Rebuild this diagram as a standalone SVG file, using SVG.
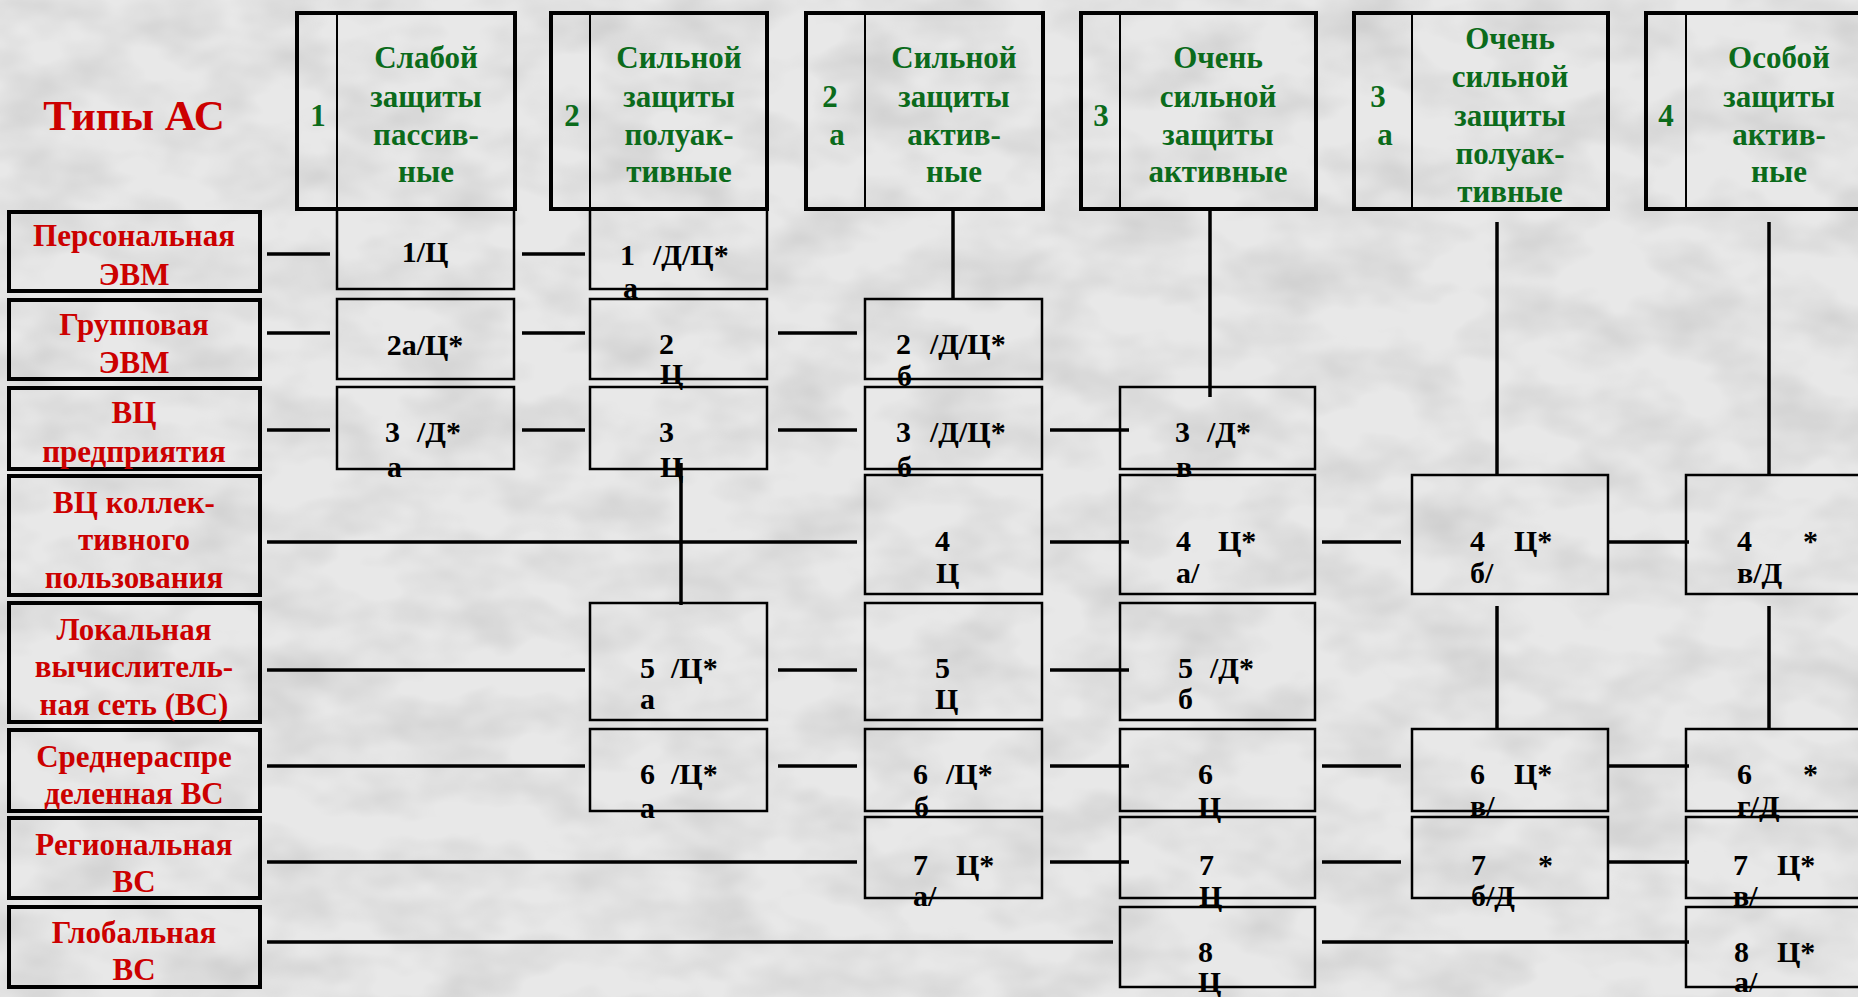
<svg xmlns="http://www.w3.org/2000/svg" width="1858" height="997" viewBox="0 0 1858 997">
<style>
.hdr{fill:none;stroke:#000;stroke-width:4}
.dv{stroke:#000;stroke-width:2}
.lbl{fill:none;stroke:#000;stroke-width:4}
.cell{fill:none;stroke:#000;stroke-width:2.5}
#connectors line{stroke:#000;stroke-width:3.5}
text{font-family:"Liberation Serif","Times New Roman",serif;font-weight:bold}
.g{fill:#0b6b1b;font-size:31px;text-anchor:middle}
.r{fill:#cc0000;font-size:31px;text-anchor:middle}
.t{fill:#000;font-size:30px}
.tm{fill:#000;font-size:30px;text-anchor:middle}
</style>
<defs>
<filter id="tex" x="0" y="0" width="1858" height="997" filterUnits="userSpaceOnUse">
<feTurbulence type="fractalNoise" baseFrequency="0.012 0.02" numOctaves="3" seed="7"/>
<feColorMatrix type="matrix" values="0 0 0 0 0.6  0 0 0 0 0.6  0 0 0 0 0.6  1.6 0 0 0 -0.6"/>
</filter>
</defs>
<rect x="0" y="0" width="1858" height="997" fill="#e8e8e8"/>
<rect x="0" y="0" width="1858" height="997" filter="url(#tex)"/>

<text class="r" x="134" y="130" style="font-size:43px">Типы АС</text>

<!-- header nodes -->
<g id="h1">
<rect class="hdr" x="297" y="13" width="218" height="196"/>
<line class="dv" x1="337" y1="13" x2="337" y2="209"/>
<text class="g" x="318" y="126">1</text>
<text class="g" x="426" y="68">Слабой</text>
<text class="g" x="426" y="107">защиты</text>
<text class="g" x="426" y="145">пассив-</text>
<text class="g" x="426" y="182">ные</text>
</g>
<g id="h2">
<rect class="hdr" x="551" y="13" width="216" height="196"/>
<line class="dv" x1="590" y1="13" x2="590" y2="209"/>
<text class="g" x="572" y="126">2</text>
<text class="g" x="679" y="68">Сильной</text>
<text class="g" x="679" y="107">защиты</text>
<text class="g" x="679" y="145">полуак-</text>
<text class="g" x="679" y="182">тивные</text>
</g>
<g id="h2a">
<rect class="hdr" x="806" y="13" width="237" height="196"/>
<line class="dv" x1="865" y1="13" x2="865" y2="209"/>
<text class="g" x="830" y="107">2</text>
<text class="g" x="837" y="145">а</text>
<text class="g" x="954" y="68">Сильной</text>
<text class="g" x="954" y="107">защиты</text>
<text class="g" x="954" y="145">актив-</text>
<text class="g" x="954" y="182">ные</text>
</g>
<g id="h3">
<rect class="hdr" x="1081" y="13" width="235" height="196"/>
<line class="dv" x1="1120" y1="13" x2="1120" y2="209"/>
<text class="g" x="1101" y="126">3</text>
<text class="g" x="1218" y="68">Очень</text>
<text class="g" x="1218" y="107">сильной</text>
<text class="g" x="1218" y="145">защиты</text>
<text class="g" x="1218" y="182">активные</text>
</g>
<g id="h3a">
<rect class="hdr" x="1354" y="13" width="254" height="196"/>
<line class="dv" x1="1412" y1="13" x2="1412" y2="209"/>
<text class="g" x="1378" y="107">3</text>
<text class="g" x="1385" y="145">а</text>
<text class="g" x="1510" y="49">Очень</text>
<text class="g" x="1510" y="87">сильной</text>
<text class="g" x="1510" y="126">защиты</text>
<text class="g" x="1510" y="164">полуак-</text>
<text class="g" x="1510" y="202">тивные</text>
</g>
<g id="h4">
<rect class="hdr" x="1646" y="13" width="240" height="196"/>
<line class="dv" x1="1686" y1="13" x2="1686" y2="209"/>
<text class="g" x="1666" y="126">4</text>
<text class="g" x="1779" y="68">Особой</text>
<text class="g" x="1779" y="107">защиты</text>
<text class="g" x="1779" y="145">актив-</text>
<text class="g" x="1779" y="182">ные</text>
</g>

<!-- row label nodes -->
<g id="r1"><rect class="lbl" x="9" y="212" width="251" height="79"/>
<text class="r" x="134" y="246">Персональная</text><text class="r" x="134" y="285">ЭВМ</text></g>
<g id="r2"><rect class="lbl" x="9" y="300" width="251" height="79"/>
<text class="r" x="134" y="335">Групповая</text><text class="r" x="134" y="373">ЭВМ</text></g>
<g id="r3"><rect class="lbl" x="9" y="388" width="251" height="81"/>
<text class="r" x="134" y="423">ВЦ</text><text class="r" x="134" y="462">предприятия</text></g>
<g id="r4"><rect class="lbl" x="9" y="476" width="251" height="119"/>
<text class="r" x="134" y="513">ВЦ коллек-</text><text class="r" x="134" y="550">тивного</text><text class="r" x="134" y="588">пользования</text></g>
<g id="r5"><rect class="lbl" x="9" y="603" width="251" height="119"/>
<text class="r" x="134" y="640">Локальная</text><text class="r" x="134" y="677">вычислитель-</text><text class="r" x="134" y="715">ная сеть (ВС)</text></g>
<g id="r6"><rect class="lbl" x="9" y="730" width="251" height="81"/>
<text class="r" x="134" y="767">Среднераспре</text><text class="r" x="134" y="804">деленная ВС</text></g>
<g id="r7"><rect class="lbl" x="9" y="818" width="251" height="80"/>
<text class="r" x="134" y="855">Региональная</text><text class="r" x="134" y="892">ВС</text></g>
<g id="r8"><rect class="lbl" x="9" y="907" width="251" height="80"/>
<text class="r" x="134" y="943">Глобальная</text><text class="r" x="134" y="980">ВС</text></g>

<!-- connectors -->
<g id="connectors">
<line x1="267" y1="254" x2="330" y2="254"/><line x1="522" y1="254" x2="585" y2="254"/>
<line x1="267" y1="333" x2="330" y2="333"/><line x1="522" y1="333" x2="585" y2="333"/><line x1="778" y1="333" x2="857" y2="333"/>
<line x1="267" y1="430" x2="330" y2="430"/><line x1="522" y1="430" x2="585" y2="430"/><line x1="778" y1="430" x2="857" y2="430"/><line x1="1050" y1="430" x2="1129" y2="430"/>
<line x1="267" y1="542" x2="857" y2="542"/><line x1="1050" y1="542" x2="1129" y2="542"/><line x1="1322" y1="542" x2="1401" y2="542"/><line x1="1609" y1="542" x2="1689" y2="542"/>
<line x1="267" y1="670" x2="585" y2="670"/><line x1="778" y1="670" x2="857" y2="670"/><line x1="1050" y1="670" x2="1129" y2="670"/>
<line x1="267" y1="766" x2="585" y2="766"/><line x1="778" y1="766" x2="857" y2="766"/><line x1="1050" y1="766" x2="1129" y2="766"/><line x1="1322" y1="766" x2="1401" y2="766"/><line x1="1609" y1="766" x2="1689" y2="766"/>
<line x1="267" y1="862" x2="857" y2="862"/><line x1="1050" y1="862" x2="1129" y2="862"/><line x1="1322" y1="862" x2="1401" y2="862"/><line x1="1609" y1="862" x2="1689" y2="862"/>
<line x1="267" y1="942" x2="1113" y2="942"/><line x1="1322" y1="942" x2="1689" y2="942"/>
<line x1="953" y1="209" x2="953" y2="299"/>
<line x1="1210" y1="209" x2="1210" y2="397"/>
<line x1="1497" y1="222" x2="1497" y2="475"/><line x1="1497" y1="606" x2="1497" y2="730"/>
<line x1="1769" y1="222" x2="1769" y2="475"/><line x1="1769" y1="606" x2="1769" y2="730"/>
<line x1="681" y1="463" x2="681" y2="605"/>
</g>

<!-- cell nodes -->
<g id="c1-1"><rect class="cell" x="337" y="209" width="177" height="80"/><text class="tm" x="425" y="262">1/Ц</text></g>
<g id="c1-2"><rect class="cell" x="590" y="209" width="177" height="80"/><text class="t" x="620" y="265">1<tspan x="653">/Д/Ц*</tspan></text><text class="t" x="623" y="298">а</text></g>

<g id="c2-1"><rect class="cell" x="337" y="299" width="177" height="80"/><text class="tm" x="425" y="355">2а/Ц*</text></g>
<g id="c2-2"><rect class="cell" x="590" y="299" width="177" height="80"/><text class="t" x="659" y="354">2</text><text class="t" x="660" y="384">Ц</text></g>
<g id="c2-2a"><rect class="cell" x="865" y="299" width="177" height="80"/><text class="t" x="896" y="354">2<tspan x="930">/Д/Ц*</tspan></text><text class="t" x="897" y="386">б</text></g>

<g id="c3-1"><rect class="cell" x="337" y="387" width="177" height="82"/><text class="t" x="385" y="442">3<tspan x="417">/Д*</tspan></text><text class="t" x="387" y="477">а</text></g>
<g id="c3-2"><rect class="cell" x="590" y="387" width="177" height="82"/><text class="t" x="659" y="442">3</text><text class="t" x="660" y="477">Ц</text></g>
<g id="c3-2a"><rect class="cell" x="865" y="387" width="177" height="82"/><text class="t" x="896" y="442">3<tspan x="930">/Д/Ц*</tspan></text><text class="t" x="897" y="477">б</text></g>
<g id="c3-3"><rect class="cell" x="1120" y="387" width="195" height="82"/><text class="t" x="1175" y="442">3<tspan x="1207">/Д*</tspan></text><text class="t" x="1176" y="477">в</text></g>

<g id="c4-2a"><rect class="cell" x="865" y="475" width="177" height="119"/><text class="t" x="935" y="551">4</text><text class="t" x="936" y="583">Ц</text></g>
<g id="c4-3"><rect class="cell" x="1120" y="475" width="195" height="119"/><text class="t" x="1176" y="551">4<tspan x="1218">Ц*</tspan></text><text class="t" x="1176" y="583">а/</text></g>
<g id="c4-3a"><rect class="cell" x="1412" y="475" width="196" height="119"/><text class="t" x="1470" y="551">4<tspan x="1514">Ц*</tspan></text><text class="t" x="1470" y="583">б/</text></g>
<g id="c4-4"><rect class="cell" x="1686" y="475" width="200" height="119"/><text class="t" x="1737" y="551">4<tspan x="1803">*</tspan></text><text class="t" x="1737" y="583">в/Д</text></g>

<g id="c5-2"><rect class="cell" x="590" y="603" width="177" height="117"/><text class="t" x="640" y="678">5<tspan x="671">/Ц*</tspan></text><text class="t" x="640" y="709">а</text></g>
<g id="c5-2a"><rect class="cell" x="865" y="603" width="177" height="117"/><text class="t" x="935" y="678">5</text><text class="t" x="935" y="709">Ц</text></g>
<g id="c5-3"><rect class="cell" x="1120" y="603" width="195" height="117"/><text class="t" x="1178" y="678">5<tspan x="1210">/Д*</tspan></text><text class="t" x="1178" y="709">б</text></g>

<g id="c6-2"><rect class="cell" x="590" y="729" width="177" height="82"/><text class="t" x="640" y="784">6<tspan x="671">/Ц*</tspan></text><text class="t" x="640" y="818">а</text></g>
<g id="c6-2a"><rect class="cell" x="865" y="729" width="177" height="82"/><text class="t" x="913" y="784">6<tspan x="946">/Ц*</tspan></text><text class="t" x="914" y="817">б</text></g>
<g id="c6-3"><rect class="cell" x="1120" y="729" width="195" height="82"/><text class="t" x="1198" y="784">6</text><text class="t" x="1198" y="817">Ц</text></g>
<g id="c6-3a"><rect class="cell" x="1412" y="729" width="196" height="82"/><text class="t" x="1470" y="784">6<tspan x="1514">Ц*</tspan></text><text class="t" x="1470" y="816">в/</text></g>
<g id="c6-4"><rect class="cell" x="1686" y="729" width="200" height="82"/><text class="t" x="1737" y="784">6<tspan x="1803">*</tspan></text><text class="t" x="1737" y="816">г/Д</text></g>

<g id="c7-2a"><rect class="cell" x="865" y="817" width="177" height="81"/><text class="t" x="913" y="875">7<tspan x="956">Ц*</tspan></text><text class="t" x="913" y="906">а/</text></g>
<g id="c7-3"><rect class="cell" x="1120" y="817" width="195" height="81"/><text class="t" x="1199" y="875">7</text><text class="t" x="1199" y="906">Ц</text></g>
<g id="c7-3a"><rect class="cell" x="1412" y="817" width="196" height="81"/><text class="t" x="1471" y="875">7<tspan x="1538">*</tspan></text><text class="t" x="1471" y="906">б/Д</text></g>
<g id="c7-4"><rect class="cell" x="1686" y="817" width="200" height="81"/><text class="t" x="1733" y="875">7<tspan x="1777">Ц*</tspan></text><text class="t" x="1733" y="906">в/</text></g>

<g id="c8-3"><rect class="cell" x="1120" y="907" width="195" height="80"/><text class="t" x="1198" y="962">8</text><text class="t" x="1198" y="992">Ц</text></g>
<g id="c8-4"><rect class="cell" x="1686" y="907" width="200" height="80"/><text class="t" x="1734" y="962">8<tspan x="1777">Ц*</tspan></text><text class="t" x="1734" y="992">а/</text></g>
</svg>
